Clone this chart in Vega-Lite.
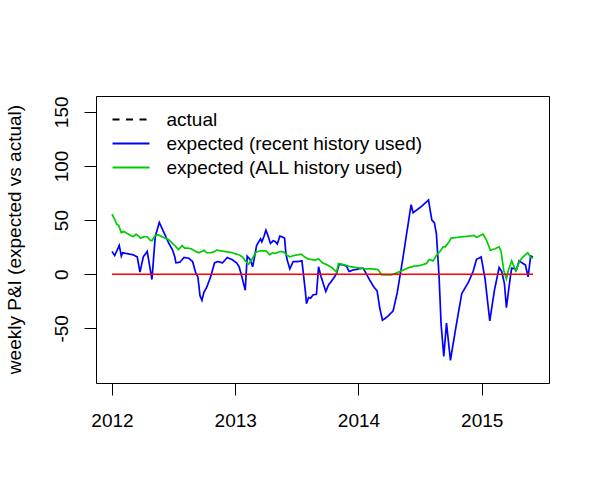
{
  "$schema": "https://vega.github.io/schema/vega-lite/v6.json",
  "autosize": {"type": "none"},
  "padding": {"left": 96, "top": 96, "right": 50, "bottom": 119},
  "width": 453,
  "height": 287,
  "background": "white",
  "config": {
    "view": {"stroke": "black", "strokeWidth": 1},
    "font": "Liberation Sans",
    "axis": {"labelFont": "Liberation Sans", "titleFont": "Liberation Sans", "labelColor": "black", "titleColor": "black", "tickColor": "black", "grid": false, "domain": false, "labelFontSize": 19, "titleFontSize": 19, "titleFontWeight": "normal", "tickSize": 12, "labelFlush": false, "labelOverlap": false}
  },
  "layer": [
    {
      "data": {"values": [
        {"series":"recent","year":2012.000,"value":21.0},
        {"series":"recent","year":2012.022,"value":17.3},
        {"series":"recent","year":2012.059,"value":26.5},
        {"series":"recent","year":2012.076,"value":16.7},
        {"series":"recent","year":2012.086,"value":19.8},
        {"series":"recent","year":2012.173,"value":17.9},
        {"series":"recent","year":2012.205,"value":16.0},
        {"series":"recent","year":2012.227,"value":1.9},
        {"series":"recent","year":2012.254,"value":16.0},
        {"series":"recent","year":2012.286,"value":21.0},
        {"series":"recent","year":2012.324,"value":-4.9},
        {"series":"recent","year":2012.351,"value":34.6},
        {"series":"recent","year":2012.384,"value":47.8},
        {"series":"recent","year":2012.422,"value":38.3},
        {"series":"recent","year":2012.459,"value":29.0},
        {"series":"recent","year":2012.492,"value":22.2},
        {"series":"recent","year":2012.508,"value":16.7},
        {"series":"recent","year":2012.519,"value":10.5},
        {"series":"recent","year":2012.551,"value":11.1},
        {"series":"recent","year":2012.584,"value":15.4},
        {"series":"recent","year":2012.622,"value":14.8},
        {"series":"recent","year":2012.654,"value":11.7},
        {"series":"recent","year":2012.681,"value":0.6},
        {"series":"recent","year":2012.697,"value":-2.5},
        {"series":"recent","year":2012.714,"value":-19.8},
        {"series":"recent","year":2012.730,"value":-24.1},
        {"series":"recent","year":2012.746,"value":-16.7},
        {"series":"recent","year":2012.768,"value":-12.3},
        {"series":"recent","year":2012.800,"value":-2.5},
        {"series":"recent","year":2012.832,"value":10.5},
        {"series":"recent","year":2012.859,"value":11.7},
        {"series":"recent","year":2012.897,"value":10.5},
        {"series":"recent","year":2012.935,"value":15.4},
        {"series":"recent","year":2012.973,"value":13.6},
        {"series":"recent","year":2013.011,"value":10.5},
        {"series":"recent","year":2013.032,"value":6.8},
        {"series":"recent","year":2013.054,"value":-2.5},
        {"series":"recent","year":2013.081,"value":-14.8},
        {"series":"recent","year":2013.097,"value":16.7},
        {"series":"recent","year":2013.124,"value":13.0},
        {"series":"recent","year":2013.141,"value":6.8},
        {"series":"recent","year":2013.162,"value":19.1},
        {"series":"recent","year":2013.173,"value":26.5},
        {"series":"recent","year":2013.205,"value":32.7},
        {"series":"recent","year":2013.216,"value":29.9},
        {"series":"recent","year":2013.232,"value":34.6},
        {"series":"recent","year":2013.249,"value":40.7},
        {"series":"recent","year":2013.265,"value":35.8},
        {"series":"recent","year":2013.286,"value":28.4},
        {"series":"recent","year":2013.308,"value":30.9},
        {"series":"recent","year":2013.324,"value":30.2},
        {"series":"recent","year":2013.341,"value":27.8},
        {"series":"recent","year":2013.362,"value":35.2},
        {"series":"recent","year":2013.378,"value":34.6},
        {"series":"recent","year":2013.400,"value":33.3},
        {"series":"recent","year":2013.411,"value":19.1},
        {"series":"recent","year":2013.422,"value":13.0},
        {"series":"recent","year":2013.443,"value":4.9},
        {"series":"recent","year":2013.470,"value":11.7},
        {"series":"recent","year":2013.508,"value":11.7},
        {"series":"recent","year":2013.541,"value":12.3},
        {"series":"recent","year":2013.568,"value":-14.8},
        {"series":"recent","year":2013.578,"value":-27.2},
        {"series":"recent","year":2013.595,"value":-21.6},
        {"series":"recent","year":2013.611,"value":-22.2},
        {"series":"recent","year":2013.632,"value":-19.1},
        {"series":"recent","year":2013.659,"value":-18.5},
        {"series":"recent","year":2013.676,"value":6.8},
        {"series":"recent","year":2013.697,"value":-2.5},
        {"series":"recent","year":2013.714,"value":-8.6},
        {"series":"recent","year":2013.735,"value":-16.0},
        {"series":"recent","year":2013.757,"value":-9.9},
        {"series":"recent","year":2013.795,"value":-4.3},
        {"series":"recent","year":2013.822,"value":0.6},
        {"series":"recent","year":2013.843,"value":9.3},
        {"series":"recent","year":2013.876,"value":8.6},
        {"series":"recent","year":2013.903,"value":7.4},
        {"series":"recent","year":2013.924,"value":2.5},
        {"series":"recent","year":2013.951,"value":3.7},
        {"series":"recent","year":2014.000,"value":4.9},
        {"series":"recent","year":2014.038,"value":5.6},
        {"series":"recent","year":2014.092,"value":-5.6},
        {"series":"recent","year":2014.124,"value":-11.7},
        {"series":"recent","year":2014.151,"value":-15.4},
        {"series":"recent","year":2014.173,"value":-31.5},
        {"series":"recent","year":2014.195,"value":-42.6},
        {"series":"recent","year":2014.238,"value":-38.9},
        {"series":"recent","year":2014.281,"value":-33.9},
        {"series":"recent","year":2014.314,"value":-17.3},
        {"series":"recent","year":2014.362,"value":16.0},
        {"series":"recent","year":2014.395,"value":40.7},
        {"series":"recent","year":2014.427,"value":64.2},
        {"series":"recent","year":2014.443,"value":56.8},
        {"series":"recent","year":2014.508,"value":62.3},
        {"series":"recent","year":2014.568,"value":68.5},
        {"series":"recent","year":2014.595,"value":50.0},
        {"series":"recent","year":2014.616,"value":47.5},
        {"series":"recent","year":2014.632,"value":37.6},
        {"series":"recent","year":2014.654,"value":-2.5},
        {"series":"recent","year":2014.670,"value":-45.7},
        {"series":"recent","year":2014.692,"value":-75.9},
        {"series":"recent","year":2014.714,"value":-45.1},
        {"series":"recent","year":2014.746,"value":-79.6},
        {"series":"recent","year":2014.768,"value":-64.2},
        {"series":"recent","year":2014.800,"value":-42.6},
        {"series":"recent","year":2014.838,"value":-17.9},
        {"series":"recent","year":2014.892,"value":-7.4},
        {"series":"recent","year":2014.930,"value":2.5},
        {"series":"recent","year":2014.957,"value":13.6},
        {"series":"recent","year":2014.995,"value":16.0},
        {"series":"recent","year":2015.027,"value":-4.3},
        {"series":"recent","year":2015.065,"value":-43.2},
        {"series":"recent","year":2015.103,"value":-14.8},
        {"series":"recent","year":2015.141,"value":6.2},
        {"series":"recent","year":2015.162,"value":2.5},
        {"series":"recent","year":2015.184,"value":-8.6},
        {"series":"recent","year":2015.200,"value":-30.9},
        {"series":"recent","year":2015.232,"value":-2.5},
        {"series":"recent","year":2015.243,"value":5.6},
        {"series":"recent","year":2015.270,"value":4.9},
        {"series":"recent","year":2015.281,"value":3.7},
        {"series":"recent","year":2015.303,"value":12.3},
        {"series":"recent","year":2015.327,"value":10.5},
        {"series":"recent","year":2015.354,"value":8.6},
        {"series":"recent","year":2015.376,"value":-2.5},
        {"series":"recent","year":2015.397,"value":16.7},
        {"series":"recent","year":2015.416,"value":16.0},
        {"series":"all","year":2012.000,"value":55.5},
        {"series":"all","year":2012.022,"value":50.6},
        {"series":"all","year":2012.038,"value":46.3},
        {"series":"all","year":2012.054,"value":45.1},
        {"series":"all","year":2012.076,"value":38.3},
        {"series":"all","year":2012.092,"value":39.5},
        {"series":"all","year":2012.124,"value":37.6},
        {"series":"all","year":2012.151,"value":35.8},
        {"series":"all","year":2012.173,"value":34.6},
        {"series":"all","year":2012.195,"value":37.0},
        {"series":"all","year":2012.216,"value":35.2},
        {"series":"all","year":2012.232,"value":33.3},
        {"series":"all","year":2012.259,"value":34.6},
        {"series":"all","year":2012.286,"value":34.6},
        {"series":"all","year":2012.308,"value":31.5},
        {"series":"all","year":2012.324,"value":30.9},
        {"series":"all","year":2012.351,"value":35.8},
        {"series":"all","year":2012.378,"value":36.4},
        {"series":"all","year":2012.405,"value":34.6},
        {"series":"all","year":2012.432,"value":33.3},
        {"series":"all","year":2012.459,"value":32.1},
        {"series":"all","year":2012.486,"value":29.0},
        {"series":"all","year":2012.514,"value":25.9},
        {"series":"all","year":2012.541,"value":22.8},
        {"series":"all","year":2012.568,"value":26.5},
        {"series":"all","year":2012.589,"value":24.1},
        {"series":"all","year":2012.611,"value":24.1},
        {"series":"all","year":2012.643,"value":23.5},
        {"series":"all","year":2012.670,"value":21.6},
        {"series":"all","year":2012.703,"value":19.8},
        {"series":"all","year":2012.730,"value":21.0},
        {"series":"all","year":2012.746,"value":22.2},
        {"series":"all","year":2012.768,"value":19.8},
        {"series":"all","year":2012.805,"value":19.8},
        {"series":"all","year":2012.832,"value":21.0},
        {"series":"all","year":2012.849,"value":22.2},
        {"series":"all","year":2012.881,"value":21.6},
        {"series":"all","year":2012.914,"value":21.0},
        {"series":"all","year":2012.946,"value":20.4},
        {"series":"all","year":2012.978,"value":19.8},
        {"series":"all","year":2013.011,"value":18.5},
        {"series":"all","year":2013.032,"value":17.9},
        {"series":"all","year":2013.059,"value":16.0},
        {"series":"all","year":2013.081,"value":12.3},
        {"series":"all","year":2013.108,"value":9.3},
        {"series":"all","year":2013.135,"value":13.6},
        {"series":"all","year":2013.168,"value":20.4},
        {"series":"all","year":2013.205,"value":21.6},
        {"series":"all","year":2013.249,"value":21.6},
        {"series":"all","year":2013.281,"value":17.9},
        {"series":"all","year":2013.303,"value":19.8},
        {"series":"all","year":2013.324,"value":19.1},
        {"series":"all","year":2013.351,"value":20.4},
        {"series":"all","year":2013.373,"value":21.0},
        {"series":"all","year":2013.395,"value":20.4},
        {"series":"all","year":2013.416,"value":17.9},
        {"series":"all","year":2013.443,"value":16.0},
        {"series":"all","year":2013.476,"value":17.3},
        {"series":"all","year":2013.508,"value":17.9},
        {"series":"all","year":2013.535,"value":18.5},
        {"series":"all","year":2013.562,"value":16.0},
        {"series":"all","year":2013.589,"value":14.2},
        {"series":"all","year":2013.616,"value":13.6},
        {"series":"all","year":2013.649,"value":13.0},
        {"series":"all","year":2013.676,"value":14.2},
        {"series":"all","year":2013.708,"value":10.5},
        {"series":"all","year":2013.746,"value":8.6},
        {"series":"all","year":2013.784,"value":6.2},
        {"series":"all","year":2013.822,"value":1.9},
        {"series":"all","year":2013.838,"value":9.9},
        {"series":"all","year":2013.865,"value":9.3},
        {"series":"all","year":2013.903,"value":8.0},
        {"series":"all","year":2013.941,"value":6.8},
        {"series":"all","year":2013.978,"value":6.2},
        {"series":"all","year":2014.016,"value":5.6},
        {"series":"all","year":2014.059,"value":4.9},
        {"series":"all","year":2014.108,"value":4.9},
        {"series":"all","year":2014.157,"value":4.3},
        {"series":"all","year":2014.189,"value":-0.6},
        {"series":"all","year":2014.227,"value":-0.6},
        {"series":"all","year":2014.270,"value":-0.6},
        {"series":"all","year":2014.297,"value":0.6},
        {"series":"all","year":2014.335,"value":2.5},
        {"series":"all","year":2014.373,"value":4.3},
        {"series":"all","year":2014.411,"value":6.2},
        {"series":"all","year":2014.449,"value":7.4},
        {"series":"all","year":2014.497,"value":8.0},
        {"series":"all","year":2014.551,"value":9.9},
        {"series":"all","year":2014.573,"value":13.6},
        {"series":"all","year":2014.589,"value":13.0},
        {"series":"all","year":2014.605,"value":12.3},
        {"series":"all","year":2014.632,"value":17.3},
        {"series":"all","year":2014.665,"value":21.6},
        {"series":"all","year":2014.686,"value":25.3},
        {"series":"all","year":2014.703,"value":25.3},
        {"series":"all","year":2014.730,"value":29.0},
        {"series":"all","year":2014.751,"value":33.3},
        {"series":"all","year":2014.795,"value":33.9},
        {"series":"all","year":2014.849,"value":34.6},
        {"series":"all","year":2014.903,"value":35.2},
        {"series":"all","year":2014.941,"value":35.8},
        {"series":"all","year":2014.957,"value":33.9},
        {"series":"all","year":2014.978,"value":35.2},
        {"series":"all","year":2015.011,"value":37.0},
        {"series":"all","year":2015.038,"value":31.5},
        {"series":"all","year":2015.070,"value":22.2},
        {"series":"all","year":2015.108,"value":23.5},
        {"series":"all","year":2015.141,"value":25.3},
        {"series":"all","year":2015.157,"value":21.0},
        {"series":"all","year":2015.178,"value":3.7},
        {"series":"all","year":2015.200,"value":-4.3},
        {"series":"all","year":2015.216,"value":3.7},
        {"series":"all","year":2015.243,"value":12.3},
        {"series":"all","year":2015.276,"value":3.1},
        {"series":"all","year":2015.308,"value":12.3},
        {"series":"all","year":2015.335,"value":16.0},
        {"series":"all","year":2015.373,"value":19.8},
        {"series":"all","year":2015.395,"value":16.0},
        {"series":"all","year":2015.416,"value":14.8}
      ]},
      "mark": {"type": "line", "strokeWidth": 1.7, "clip": true},
      "encoding": {
        "x": {
          "field": "year", "type": "quantitative",
          "scale": {"domain": [2011.8703, 2015.5457], "nice": false, "zero": false},
          "axis": {"values": [2012, 2013, 2014, 2015], "format": "d", "title": null, "labelPadding": 16}
        },
        "y": {
          "field": "value", "type": "quantitative",
          "scale": {"domain": [-100.5, 164.6], "nice": false, "zero": false},
          "axis": {"values": [-50, 0, 50, 100, 150], "labelExpr": "'' + datum.value", "labelAngle": -90, "labelAlign": "center", "labelBaseline": "alphabetic", "labelPadding": 17, "title": "weekly P&I (expected vs actual)", "titleX": -76, "titleY": 143, "titleAngle": -90, "titleAlign": "center", "titleBaseline": "alphabetic"}
        },
        "color": {
          "field": "series", "type": "nominal", "sort": null,
          "scale": {"domain": ["actual", "recent", "all"], "range": ["#000000", "#0000FF", "#00CD00"]},
          "legend": {
            "orient": "none", "legendX": 24.5, "legendY": 13, "title": null, "padding": 0,
            "symbolType": "M-2,0H2", "symbolSize": 342, "symbolStrokeWidth": 2,
            "labelFontSize": 19, "labelFont": "Liberation Sans", "labelColor": "black", "labelOffset": 25, "rowPadding": 3, "labelLimit": 400,
            "labelExpr": "datum.value == 'actual' ? 'actual' : datum.value == 'recent' ? 'expected (recent history used)' : 'expected (ALL history used)'"
          }
        },
        "strokeDash": {
          "field": "series", "type": "nominal", "sort": null,
          "scale": {"domain": ["actual", "recent", "all"], "range": [[7, 6.5], [1, 0], [1, 0]]},
          "legend": {
            "orient": "none", "legendX": 24.5, "legendY": 13, "title": null, "padding": 0,
            "symbolType": "M-2,0H2", "symbolSize": 342, "symbolStrokeWidth": 2,
            "labelFontSize": 19, "labelFont": "Liberation Sans", "labelColor": "black", "labelOffset": 25, "rowPadding": 3, "labelLimit": 400,
            "labelExpr": "datum.value == 'actual' ? 'actual' : datum.value == 'recent' ? 'expected (recent history used)' : 'expected (ALL history used)'"
          }
        }
      }
    },
    {
      "data": {"values": [
        {"year": 2012.0, "value": 0},
        {"year": 2015.416, "value": 0}
      ]},
      "mark": {"type": "line", "color": "#FF0000", "strokeWidth": 1.5},
      "encoding": {
        "x": {"field": "year", "type": "quantitative"},
        "y": {"field": "value", "type": "quantitative"}
      }
    }
  ]
}
